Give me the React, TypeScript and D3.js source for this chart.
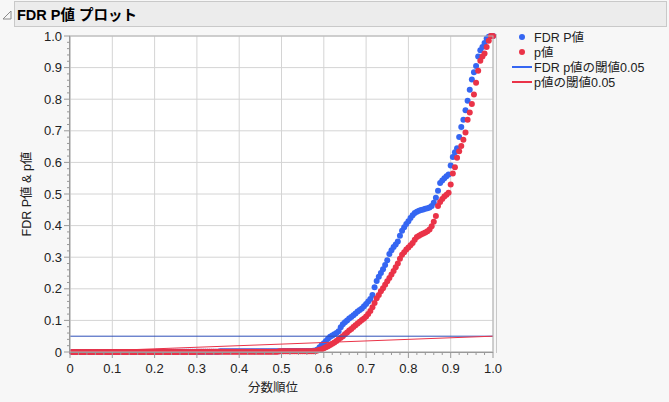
import * as d3 from "d3";

// sorted p-values and FDR p-values, one per test, in rank order
const pValues = [
  0, 0, 0, 0, 0, 0, 0, 0, 0, 0,
  0, 0, 0, 0, 0, 0, 0, 0, 0, 0,
  0, 0, 0, 0, 0, 0, 0, 0, 0, 0,
  0, 0, 0, 0, 0, 0, 0, 0, 0, 0,
  0, 0, 0, 0, 0, 0, 0, 0, 0, 0,
  0, 0, 0, 0, 0, 0, 0, 0, 0, 0.001,
  0.001, 0.001, 0.001, 0.001, 0.001, 0.001, 0.001, 0.001, 0.001, 0.001,
  0.001, 0.001, 0.001, 0.001, 0.001, 0.001, 0.001, 0.001, 0.001, 0.001,
  0.001, 0.001, 0.001, 0.001, 0.001, 0.001, 0.001, 0.001, 0.001, 0.001,
  0.001, 0.001, 0.001, 0.001, 0.001, 0.001, 0.001, 0.001, 0.002, 0.002,
  0.002, 0.002, 0.002, 0.002, 0.002, 0.002, 0.002, 0.002, 0.002, 0.002,
  0.002, 0.002, 0.002, 0.002, 0.002,
  0.003, 0.005, 0.007, 0.009, 0.012, 0.015, 0.018, 0.022, 0.026, 0.03,
  0.035, 0.04, 0.045, 0.05, 0.056, 0.062, 0.068, 0.073, 0.079, 0.085,
  0.09, 0.096, 0.101, 0.106, 0.112, 0.12, 0.13, 0.142, 0.155, 0.17,
  0.18, 0.192, 0.202, 0.213, 0.224, 0.234, 0.245, 0.256, 0.268, 0.28,
  0.295, 0.308, 0.316, 0.324, 0.331, 0.338, 0.345, 0.355, 0.364, 0.368,
  0.372, 0.375, 0.378, 0.382, 0.388, 0.398, 0.412, 0.43, 0.462, 0.475,
  0.484, 0.492, 0.498, 0.504, 0.53, 0.565, 0.585, 0.615, 0.635, 0.652,
  0.672, 0.695, 0.735, 0.758, 0.785, 0.815, 0.852, 0.89, 0.922, 0.935,
  0.945, 0.965, 0.985, 1.0, 1.0,
];

const fdrValues = [
  0, 0, 0, 0, 0, 0, 0, 0, 0, 0,
  0, 0, 0, 0, 0, 0, 0, 0, 0, 0,
  0, 0, 0, 0, 0, 0, 0, 0, 0, 0,
  0, 0, 0, 0, 0, 0, 0, 0, 0, 0,
  0.001, 0.001, 0.001, 0.001, 0.001, 0.001, 0.001, 0.001, 0.001, 0.001,
  0.001, 0.001, 0.001, 0.001, 0.001, 0.001, 0.001, 0.001, 0.001, 0.001,
  0.001, 0.001, 0.001, 0.001, 0.001, 0.001, 0.001, 0.001, 0.001, 0.001,
  0.002, 0.002, 0.002, 0.002, 0.002, 0.002, 0.002, 0.002, 0.002, 0.002,
  0.002, 0.002, 0.002, 0.002, 0.002, 0.002, 0.002, 0.002, 0.002, 0.002,
  0.002, 0.002, 0.002, 0.002, 0.002, 0.002, 0.002, 0.002, 0.002, 0.002,
  0.003, 0.003, 0.003, 0.003, 0.003, 0.003, 0.003, 0.003, 0.003, 0.003,
  0.003, 0.003, 0.003, 0.003, 0.004,
  0.005, 0.008, 0.015, 0.022, 0.028, 0.035, 0.042, 0.048, 0.052, 0.056,
  0.06, 0.066, 0.078, 0.088, 0.094, 0.1, 0.106, 0.111, 0.116, 0.122,
  0.128, 0.133, 0.138, 0.145, 0.152, 0.16, 0.168, 0.18, 0.205, 0.225,
  0.238, 0.25, 0.262, 0.275, 0.29, 0.31, 0.322, 0.332, 0.34, 0.35,
  0.368, 0.384, 0.395, 0.405, 0.414, 0.424, 0.433, 0.44, 0.444, 0.447,
  0.449, 0.451, 0.453, 0.455, 0.457, 0.462, 0.472, 0.488, 0.51, 0.535,
  0.543, 0.55, 0.556, 0.562, 0.59, 0.617, 0.632, 0.645, 0.68, 0.712,
  0.735, 0.765, 0.795, 0.83, 0.862, 0.885, 0.905, 0.935, 0.955, 0.965,
  0.978, 0.992, 0.998, 1.0, 1.0,
];

const alpha = 0.05;
const tickValues = [0, 0.1, 0.2, 0.3, 0.4, 0.5, 0.6, 0.7, 0.8, 0.9, 1.0];
const tickLabels = ["0", "0.1", "0.2", "0.3", "0.4", "0.5", "0.6", "0.7", "0.8", "0.9", "1.0"];
const legendItems = [
  { label: "FDR P値", kind: "dot", color: "#3566f2" },
  { label: "p値", kind: "dot", color: "#ea3348" },
  { label: "FDR p値の閾値0.05", kind: "line", color: "#3566f2" },
  { label: "p値の閾値0.05", kind: "line", color: "#ea3348" },
];

const blue = "#3566f2";
const red = "#ea3348";
const font = "'Liberation Sans', 'Noto Sans CJK JP', sans-serif";

export default function App() {
  const width = 669;
  const height = 402;
  const plot = { left: 70, right: 493, top: 36, bottom: 352 };

  const x = d3.scaleLinear().domain([0, 1]).range([plot.left, plot.right]);
  const y = d3.scaleLinear().domain([0, 1]).range([plot.bottom, plot.top]);
  const minor = d3.range(0, 51).map((i) => i / 50);

  const n = pValues.length;
  const rank = (i: number) => (i + 1) / n;

  return (
    <svg
      width={width}
      height={height}
      style={{ position: "absolute", left: 0, top: 0, fontFamily: font }}
    >
      <rect width={width} height={height} fill="#f7f7f7" />

      {/* title bar */}
      <rect x={14.5} y={1.5} width={652} height={25} fill="#ececec" stroke="#c9c9c9" />
      <path d="M3,19 L11,11 L11,19 Z" fill="none" stroke="#8a8a8a" strokeWidth={1} />
      <text x={17} y={19.5} fontSize={14.5} fontWeight="bold" fill="#000">
        FDR P値 プロット
      </text>

      {/* plot frame + grid */}
      <rect
        x={plot.left}
        y={plot.top}
        width={plot.right - plot.left}
        height={plot.bottom - plot.top}
        fill="#fff"
      />
      {tickValues.map((t) => (
        <g key={"g" + t}>
          <line x1={x(t)} x2={x(t)} y1={plot.top} y2={plot.bottom} stroke="#d4d4d4" />
          <line x1={plot.left} x2={plot.right} y1={y(t)} y2={y(t)} stroke="#d4d4d4" />
        </g>
      ))}

      {/* points */}
      {fdrValues.map((v, i) => (
        <circle key={"f" + i} cx={x(rank(i))} cy={y(v)} r={3} fill={blue} />
      ))}
      {pValues.map((v, i) => (
        <circle key={"p" + i} cx={x(rank(i))} cy={y(v)} r={3} fill={red} />
      ))}

      {/* threshold lines */}
      <line x1={x(0)} x2={x(1)} y1={y(alpha)} y2={y(alpha)} stroke="#2d4fb8" strokeWidth={1} />
      <line x1={x(0)} x2={x(1)} y1={y(0)} y2={y(alpha)} stroke={red} strokeWidth={1} />

      <rect
        x={plot.left}
        y={plot.top}
        width={plot.right - plot.left}
        height={plot.bottom - plot.top}
        fill="none"
        stroke="#b4b4b4"
      />
      <line x1={plot.right + 3.5} x2={plot.right + 3.5} y1={plot.top - 2} y2={plot.bottom + 1} stroke="#c8c8c8" />

      {/* axes */}
      <line x1={plot.left} x2={plot.right} y1={plot.bottom + 0.5} y2={plot.bottom + 0.5} stroke="#999" />
      <line x1={plot.left - 0.5} x2={plot.left - 0.5} y1={plot.top} y2={plot.bottom} stroke="#999" />
      {minor.map((t, i) => (
        <g key={"m" + i}>
          <line
            x1={x(t)}
            x2={x(t)}
            y1={plot.bottom}
            y2={plot.bottom + (i % 5 === 0 ? 6 : 3)}
            stroke="#999"
          />
          <line
            x1={plot.left}
            x2={plot.left - (i % 5 === 0 ? 6 : 3)}
            y1={y(t)}
            y2={y(t)}
            stroke="#999"
          />
        </g>
      ))}
      {tickValues.map((t, i) => (
        <g key={"l" + t} fontSize={13} fill="#222">
          <text x={x(t)} y={plot.bottom + 21} textAnchor="middle">
            {tickLabels[i]}
          </text>
          <text x={plot.left - 8} y={y(t) + 4.5} textAnchor="end">
            {tickLabels[i]}
          </text>
        </g>
      ))}
      <text x={273} y={392} textAnchor="middle" fontSize={12.5} fill="#222">
        分数順位
      </text>
      <text
        transform={`translate(31,${(plot.top + plot.bottom) / 2}) rotate(-90)`}
        textAnchor="middle"
        fontSize={12.5}
        fill="#222"
      >
        FDR P値 &amp; p値
      </text>

      {/* legend */}
      {legendItems.map((d, i) => {
        const ly = 37 + i * 15;
        return (
          <g key={d.label}>
            {d.kind === "dot" ? (
              <circle cx={522} cy={ly} r={3} fill={d.color} />
            ) : (
              <line x1={512} x2={532} y1={ly} y2={ly} stroke={d.color} strokeWidth={2} />
            )}
            <text x={534} y={ly + 4.5} fontSize={12.5} fill="#222">
              {d.label}
            </text>
          </g>
        );
      })}
    </svg>
  );
}
